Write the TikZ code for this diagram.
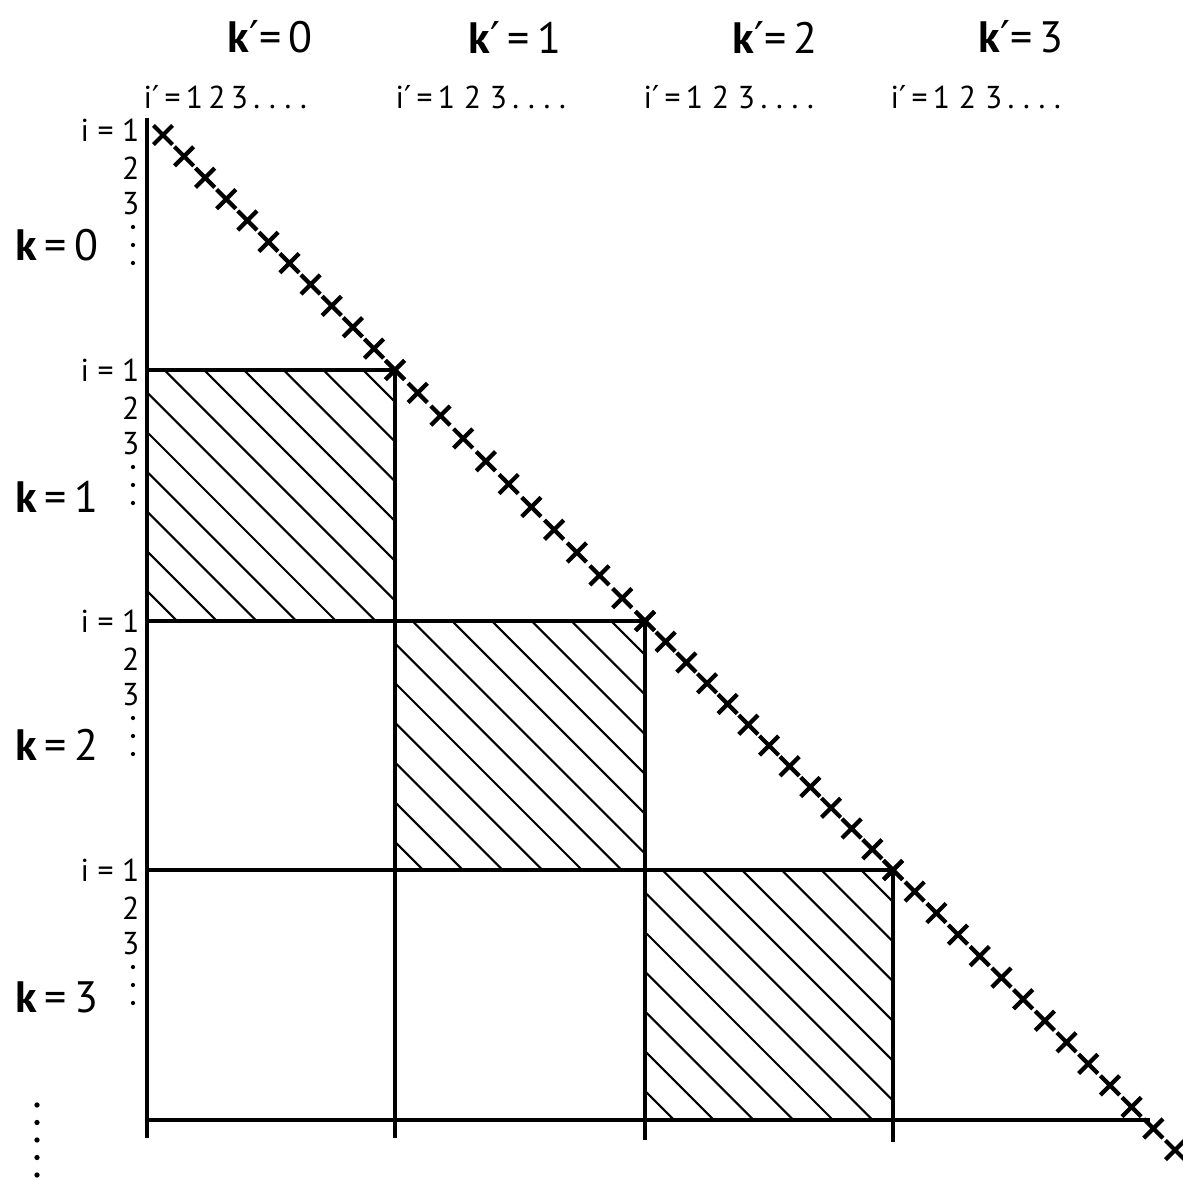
\documentclass[tikz,border=0pt]{standalone}
\usepackage{fontspec}
\setmainfont{PT Sans}
\newfontfamily\primefont{DejaVu Sans}
\newcommand{\prm}{{\primefont ′}}
\usetikzlibrary{calc,shapes.misc}
\tikzset{
  grid line/.style={line width=0.9pt},
  hatch line/.style={line width=0.6pt},
  xmark/.style={cross out, draw, line width=1.2pt, minimum size=0.15cm, inner sep=0pt},
  klabel/.style={font=\fontsize{12.5}{14}\selectfont, inner sep=0pt},
  ilabel/.style={font=\fontsize{9}{11}\selectfont, inner sep=0pt},
}
\begin{document}
\begin{tikzpicture}[x=0.01cm, y=-0.01cm]
    \useasboundingbox (0,0) rectangle (1183,1180);

    % 1. Corner points on the diagonal
    \coordinate (A) at (163,135);
    \coordinate (B) at (395,370);
    \coordinate (C) at (645,621);
    \coordinate (D) at (893,870);
    \coordinate (E) at (1175,1150);

    % 2. Hatched blocks below the diagonal
    \foreach \x/\y in {147/370, 395/621, 645/870} {
      \begin{scope}
        \clip (\x,\y) rectangle ++(249,250);
        \foreach \k in {0,...,11}
          \draw[hatch line] ({\x+(-0.887+0.1595*\k)*249-300},{\y-300}) -- ++(700,700);
      \end{scope}
    }

    % 3. Block borders
    \draw[grid line] (147,118) -- (147,1138);
    \draw[grid line] (147,370) -- (B) -- (395,1138);
    \draw[grid line] (147,621) -- (C) -- (645,1140);
    \draw[grid line] (147,870) -- (D) -- (893,1142);
    \draw[grid line] (147,1120) -- (1150,1120);

    % 4. Crosses along the diagonal
    \foreach \p/\q/\n in {A/B/11, B/C/11, C/D/12, D/E/13}
      \foreach \j in {0,...,\n}
        \node[xmark] (x-\p-\j) at ($(\p)!\j/\n!(\q)$) {};

    % 5. Column labels k' and i'
    \node[klabel] (kp0) at (270,37) {\textbf{k}\prm=\,0};
    \node[klabel] (kp1) at (515,37) {\textbf{k}\prm\,=\,1};
    \node[klabel] (kp2) at (775,37) {\textbf{k}\prm=\,2};
    \node[klabel] (kp3) at (1021,37) {\textbf{k}\prm=\,3};
    \node[ilabel, anchor=west] (ip0) at (143,97) {i\prm\,=\,1\,2\,3\,.\;.\;.\;.};
    \node[ilabel, anchor=west] (ip1) at (395,97) {i\prm\,=\,1\;2\;3\,.\;.\;.\;.};
    \node[ilabel, anchor=west] (ip2) at (643,97) {i\prm\,=\,1\;2\;3\,.\;.\;.\;.};
    \node[ilabel, anchor=west] (ip3) at (890,97) {i\prm\,=\,1\;2\;3\,.\;.\;.\;.};

    % 6. Row labels k and i
    \foreach \y/\k/\ky in {130/0/245, 370/1/497, 621/2/745, 870/3/997} {
      \node[ilabel, anchor=east] (i1-\k) at (140,\y) {i = 1};
      \node[ilabel, anchor=east] (i2-\k) at (140,\y+38) {2};
      \node[ilabel, anchor=east] (i3-\k) at (140,\y+74) {3};
      \foreach \d in {0,1,2}
        \fill (133,\y+97+\d*18) circle (0.6pt);
      \node[klabel] (k\k) at (57,\ky) {\textbf{k}\,=\,\k};
    }

    % 7. Further rows
    \foreach \d in {0,...,4}
      \fill (37,1105+\d*17.5) circle (0.75pt);

\end{tikzpicture}
\end{document}
